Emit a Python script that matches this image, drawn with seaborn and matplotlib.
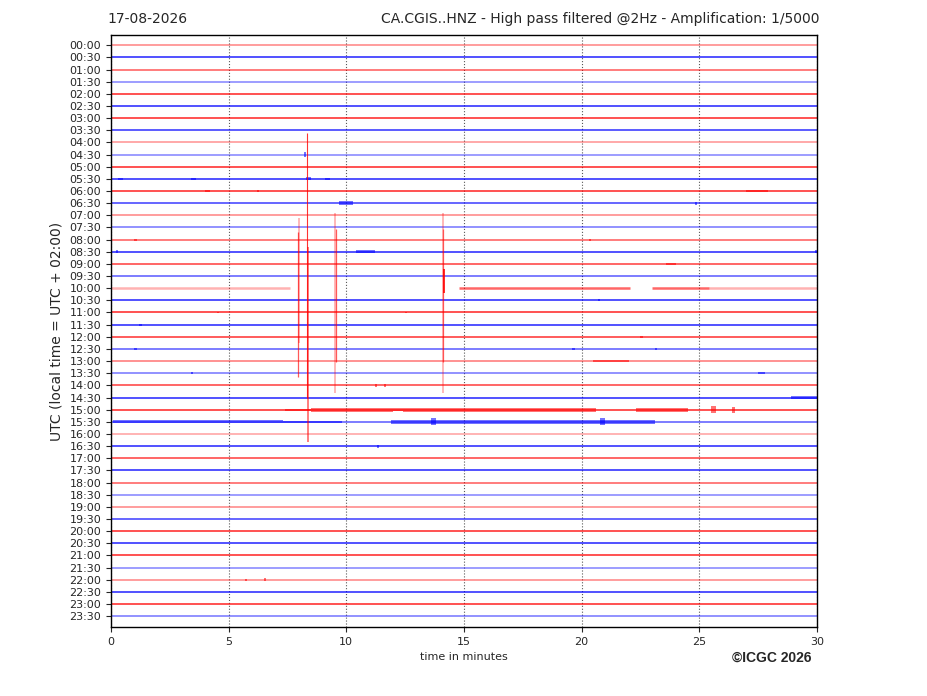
import matplotlib
matplotlib.use('Agg')
import matplotlib.pyplot as plt
import numpy as np
import pandas as pd
import seaborn as sns

# one trace per half hour, 30 minutes wide
row_labels = ['%02d:%02d' % (h, m) for h in range(24) for m in (0, 30)]
row_colors = ['red' if i % 2 == 0 else 'blue' for i in range(48)]
row_alpha = [0.45, 0.8, 0.6, 0.45, 0.8, 0.8, 0.8, 0.75, 0.4, 0.45,
             0.8, 0.8, 0.8, 0.7, 0.45, 0.5, 0.6, 0.8, 0.7, 0.6,
             0.0, 0.8, 0.8, 0.8, 0.75, 0.6, 0.5, 0.5, 0.7, 0.8,
             0.8, 0.6, 0.35, 0.8, 0.7, 0.8, 0.6, 0.45, 0.45, 0.7,
             0.8, 0.8, 0.8, 0.45, 0.45, 0.8, 0.8, 0.5]

# 10:00 trace is split in pieces (row, start min, end min, alpha)
gap_row_pieces = [(20, 0.0, 7.6, 0.3), (20, 14.8, 22.05, 0.6),
                  (20, 23.0, 25.4, 0.6), (20, 25.4, 30.0, 0.3)]

# big events crossing several traces (minute, top row, bottom row, alpha, width)
spikes = [(8.34, 7.2, 29.0, 0.8, 0.8), (8.38, 16.6, 32.7, 0.55, 1.3),
          (8.00, 14.2, 24.5, 0.3, 1.3), (7.95, 15.4, 27.3, 0.65, 0.9),
          (9.52, 13.8, 28.6, 0.3, 1.3), (9.56, 15.1, 26.1, 0.65, 0.9),
          (14.12, 13.8, 28.6, 0.3, 1.3), (14.12, 15.1, 26.1, 0.55, 0.9),
          (14.14, 18.4, 20.4, 0.9, 1.3)]

# noisy stretches and blips (row, start min, end min, half amplitude in rows)
bursts = [(30, 7.4, 8.5, 0.08), (30, 8.5, 12.0, 0.16), (30, 12.0, 12.4, 0.10),
          (30, 12.4, 20.6, 0.17), (30, 22.3, 24.5, 0.16), (30, 25.5, 25.7, 0.3),
          (30, 26.4, 26.5, 0.25),
          (31, 0.1, 7.3, 0.14), (31, 7.3, 9.8, 0.08), (31, 11.9, 23.1, 0.16),
          (31, 13.6, 13.8, 0.3), (31, 20.8, 21.0, 0.3),
          (9, 8.2, 8.3, 0.2), (11, 0.3, 0.5, 0.1), (11, 3.4, 3.6, 0.1),
          (11, 8.3, 8.5, 0.12), (11, 9.1, 9.3, 0.1), (12, 4.0, 4.2, 0.08),
          (12, 6.2, 6.3, 0.1), (12, 27.0, 27.9, 0.07), (13, 9.7, 10.3, 0.15),
          (13, 24.8, 24.9, 0.12), (16, 1.0, 1.1, 0.08), (16, 20.3, 20.4, 0.08),
          (17, 0.2, 0.3, 0.12), (17, 10.4, 11.2, 0.12), (17, 29.9, 30.0, 0.12),
          (18, 23.6, 24.0, 0.08), (21, 20.7, 20.8, 0.08), (22, 4.5, 4.6, 0.08),
          (22, 12.5, 12.6, 0.08), (23, 1.2, 1.3, 0.08), (24, 22.5, 22.6, 0.08),
          (25, 1.0, 1.1, 0.08), (25, 19.6, 19.7, 0.1), (25, 23.1, 23.2, 0.08),
          (26, 20.5, 22.0, 0.08), (27, 3.4, 3.5, 0.1), (27, 27.5, 27.8, 0.08),
          (28, 11.2, 11.3, 0.12), (28, 11.6, 11.7, 0.1), (29, 28.9, 30.0, 0.15),
          (33, 11.3, 11.4, 0.12), (44, 5.7, 5.8, 0.08), (44, 6.5, 6.6, 0.1)]

sns.set_style('ticks')
plt.rcParams['font.family'] = ['DejaVu Sans']

fig = plt.figure(figsize=(9.27, 6.96), dpi=100)
ax = fig.add_axes([0.1197, 0.0991, 0.7616, 0.8506])

traces = pd.DataFrame({'row': range(48), 'color': row_colors, 'alpha': row_alpha})
for r in traces.itertuples():
    if r.alpha > 0:
        ax.hlines(r.row, 0, 30, color=r.color, alpha=r.alpha, lw=1.2)
for row, t0, t1, a in gap_row_pieces:
    ax.hlines(row, t0, t1, color=row_colors[row], alpha=a, lw=1.8)

for t, top, bot, a, w in spikes:
    ax.vlines(t, top, bot, color='red', alpha=a, lw=w)

for row, t0, t1, amp in bursts:
    ax.fill_between([t0, t1], row - amp, row + amp, color=row_colors[row],
                    alpha=0.55, lw=0)

ax.set_xlim(0, 30)
ax.set_ylim(47.9, -0.85)
ax.set_xticks(range(0, 31, 5))
ax.set_yticks(range(48))
ax.set_yticklabels(row_labels)
ax.tick_params(labelsize=8, length=3.5, width=0.8)
ax.grid(axis='x', linestyle=':', color='0.35', lw=0.8)
for s in ax.spines.values():
    s.set_color('black')
    s.set_linewidth(1.0)

ax.set_xlabel('time in minutes', fontsize=8)
ax.set_ylabel('UTC (local time = UTC + 02:00)', fontsize=10)
ax.set_title('17-08-2026', loc='left', fontsize=10, pad=9, x=-0.005)
ax.set_title('CA.CGIS..HNZ - High pass filtered @2Hz - Amplification: 1/5000',
             loc='right', fontsize=10, pad=9, x=1.003)
fig.text(0.875, 0.0546, '\u00a9ICGC 2026', ha='right', va='center',
         family=['Liberation Sans', 'DejaVu Sans'], weight='bold', fontsize=10)

fig.savefig('out.png', dpi=100)
